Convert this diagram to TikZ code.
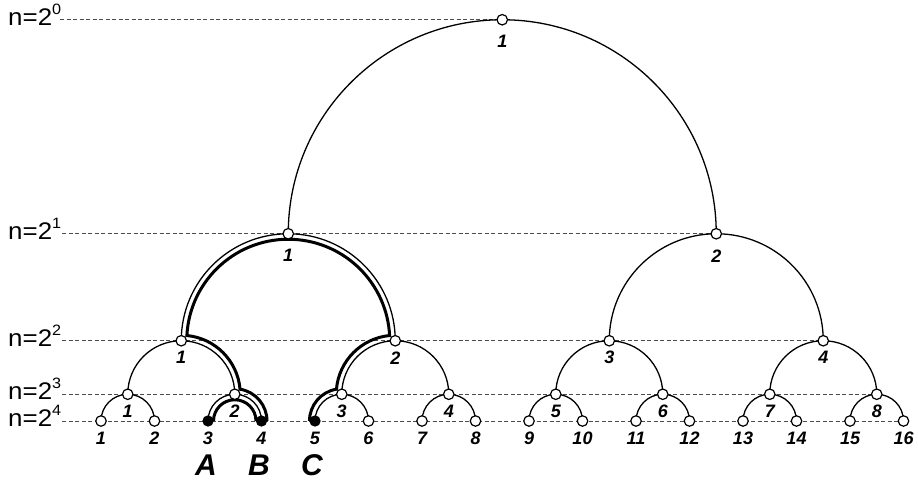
\documentclass[tikz,border=0pt]{standalone}
\usepackage{fontspec}
\setmainfont{Liberation Sans}
\begin{document}
\begin{tikzpicture}[x=1pt,y=1pt,
  onode/.style={circle,draw,fill=white,line width=1.2pt,inner sep=0pt,minimum size=10.5pt},
  fnode/.style={circle,draw,fill=black,line width=1.2pt,inner sep=0pt,minimum size=10pt},
  lvl/.style={dash pattern=on 4pt off 2.5pt,line width=0.8pt,black!70},
  arcl/.style={line width=1.3pt},
  hl/.style={line width=3pt,line join=miter},
  num/.style={font=\fontsize{18}{18}\selectfont\bfseries\itshape,inner sep=0pt},
  big/.style={font=\fontsize{30}{30}\selectfont\bfseries\itshape,inner sep=0pt},
  lev/.style={font=\fontsize{24}{24}\selectfont,anchor=base west,inner sep=0pt,xscale=1.08}]
\useasboundingbox (0,0) rectangle (918,483);
% coordinates of the tree
\foreach \i in {1,...,16} \coordinate (p4-\i) at ({101+53.5*(\i-1)},62);
\foreach \i in {1,...,8} \coordinate (p3-\i) at ({127.75+107*(\i-1)},88.75);
\foreach \i in {1,...,4} \coordinate (p2-\i) at ({181.25+214*(\i-1)},142.25);
\foreach \i in {1,2} \coordinate (p1-\i) at ({288.25+428*(\i-1)},249.25);
\coordinate (p0-1) at (502.25,463.25);
% level lines
\coordinate (s0) at (60,463.25);
\coordinate (s1) at (62,249.25);
\coordinate (s2) at (62,142.25);
\coordinate (s3) at (62,88.75);
\coordinate (s4) at (62,62);
\draw[lvl] (s0) -- (p0-1);
\draw[lvl] (s1) -- (p1-2);
\draw[lvl] (s2) -- (p2-4);
\draw[lvl] (s3) -- (p3-8);
\draw[lvl] (s4) -- (p4-16);
% level labels
\node[lev] (t0) at (8,457.75) {n=2\raisebox{11pt}{\fontsize{15}{15}\selectfont 0}};
\node[lev] (t1) at (8,243.75) {n=2\raisebox{11pt}{\fontsize{15}{15}\selectfont 1}};
\node[lev] (t2) at (8,136.75) {n=2\raisebox{11pt}{\fontsize{15}{15}\selectfont 2}};
\node[lev] (t3) at (8,83.25) {n=2\raisebox{11pt}{\fontsize{15}{15}\selectfont 3}};
\node[lev] (t4) at (8,56.5) {n=2\raisebox{11pt}{\fontsize{15}{15}\selectfont 4}};
% arcs
\foreach \j in {1,...,8}{\pgfmathtruncatemacro{\a}{2*\j-1}\draw[arcl] (p4-\a) arc[start angle=180,end angle=0,radius=26.75];}
\foreach \j in {1,...,4}{\pgfmathtruncatemacro{\a}{2*\j-1}\draw[arcl] (p3-\a) arc[start angle=180,end angle=0,radius=53.5];}
\foreach \j in {1,2}{\pgfmathtruncatemacro{\a}{2*\j-1}\draw[arcl] (p2-\a) arc[start angle=180,end angle=0,radius=107];}
\draw[arcl] (p1-1) arc[start angle=180,end angle=0,radius=214];
% highlighted paths
\coordinate (hA) at (213.5,62);
\coordinate (hB) at (267,62);
\draw[hl] (hA) arc[start angle=180,end angle=0,radius=21.25];
\draw[hl] (hB) arc[start angle=0,end angle=80.58,radius=32.25]
  arc[start angle=4.92,end angle=84.52,radius=59]
  arc[start angle=177.05,end angle=2.95,radius=101.5]
  arc[start angle=95.48,end angle=175.08,radius=59]
  arc[start angle=99.42,end angle=180,radius=32.25];
% nodes
\foreach \i in {1,2,6,7,8,9,10,11,12,13,14,15,16} \node[onode] (n4-\i) at (p4-\i) {};
\foreach \i in {3,4,5} \node[fnode] (n4-\i) at (p4-\i) {};
\foreach \i in {1,...,8} \node[onode] (n3-\i) at (p3-\i) {};
\foreach \i in {1,...,4} \node[onode] (n2-\i) at (p2-\i) {};
\foreach \i in {1,2} \node[onode] (n1-\i) at (p1-\i) {};
\node[onode] (n0-1) at (p0-1) {};
% number labels
\foreach \i in {1,...,16} \node[num] (m4-\i) at ([yshift=-17pt]p4-\i) {\i};
\foreach \i in {1,...,8} \node[num] (m3-\i) at ([yshift=-17pt]p3-\i) {\i};
\foreach \i in {1,...,4} \node[num] (m2-\i) at ([yshift=-17pt]p2-\i) {\i};
\foreach \i in {1,2} \node[num] (m1-\i) at ([yshift=-22pt]p1-\i) {\i};
\node[num] (m0-1) at ([yshift=-22pt]p0-1) {1};
% big letters
\node[big] (bA) at (206,18) {A};
\node[big] (bB) at (259,18) {B};
\node[big] (bC) at (312,18) {C};
\end{tikzpicture}
\end{document}
